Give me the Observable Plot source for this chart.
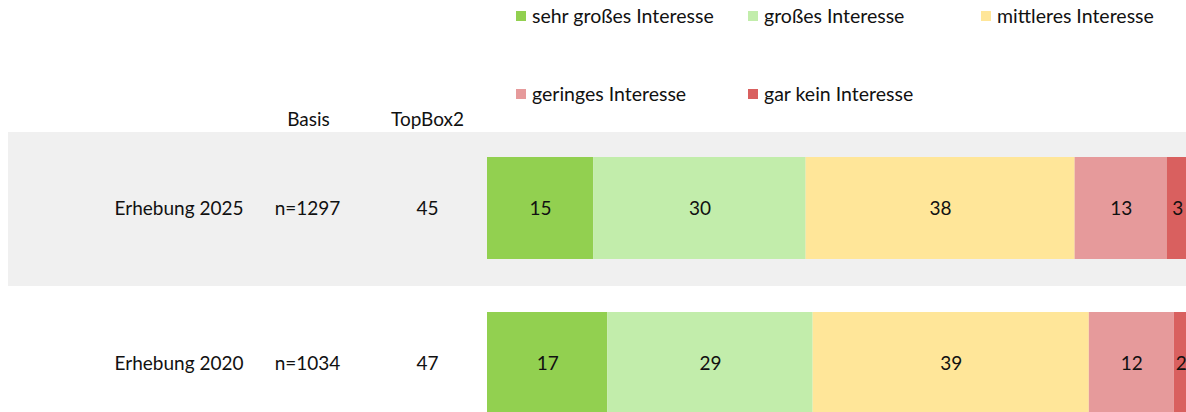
<!DOCTYPE html>
<html>
<head>
<meta charset="utf-8">
<script src="https://cdn.jsdelivr.net/npm/d3@7"></script>
<script src="https://cdn.jsdelivr.net/npm/@observablehq/plot@0.6"></script>
<style>
  html, body { margin: 0; padding: 0; background: #fff; overflow: hidden; }
  #wrap { position: relative; width: 1186px; height: 412px; font-family: Lato, "Noto Sans", sans-serif; }
  #legend { position: absolute; left: 516px; top: 4px; display: grid;
    grid-template-columns: 232px 233px auto; grid-auto-rows: 78px; font-size: 19.5px; color: #111; }
  .item { display: flex; align-items: flex-start; height: 24px; line-height: 24px; }
  .sw { width: 10px; height: 10px; margin-right: 6px; margin-top: 7px; flex: none; }
</style>
</head>
<body>
<div id="wrap"><div id="chart"></div><div id="legend"></div></div>
<script>
const rows = ["Erhebung 2025", "Erhebung 2020"];
const basis = ["n=1297", "n=1034"];
const topBox2 = [45, 47];
const categories = ["sehr großes Interesse", "großes Interesse", "mittleres Interesse", "geringes Interesse", "gar kein Interesse"];
const colors = ["#92d050", "#c2edab", "#ffe699", "#e69a9b", "#d9605f"];
const values2025 = [15, 30, 38, 13, 3];
const values2020 = [17, 29, 39, 12, 2];
const headers = ["Basis", "TopBox2"];

const seriesValues = [values2025, values2020];
const data = [];
rows.forEach((r, i) => categories.forEach((c, j) => data.push({row: r, cat: c, value: seriesValues[i][j]})));
const rowInfo = rows.map((r, i) => ({row: r, basis: basis[i], top: topBox2[i]}));

const font = "Lato, 'Noto Sans', sans-serif";
const chart = Plot.plot({
  width: 1186,
  height: 412,
  marginLeft: 0, marginRight: 0, marginTop: 0, marginBottom: 0,
  style: {fontFamily: font, fontSize: "19px", color: "#111", background: "transparent", overflow: "hidden"},
  x: {domain: [0, 100], range: [487, 1195], axis: null},
  y: {domain: rows, range: [130.5, 440.5], paddingInner: 0.342, paddingOuter: 0.171, axis: null},
  color: {domain: categories, range: colors},
  marks: [
    Plot.barX([rows[0]], {y: d => d, x1: 0, x2: 100, insetLeft: -479, insetRight: -20, insetTop: -25, insetBottom: -27, fill: "#f0f0f0"}),
    Plot.barX(data, Plot.stackX({y: "row", x: "value", fill: "cat", order: categories})),
    Plot.text(data, Plot.stackX({y: "row", x: "value", z: "cat", order: categories, text: d => String(d.value), fill: "#111", fontSize: 19})),
    Plot.text(rowInfo, {y: "row", text: "row", frameAnchor: "left", dx: 243, textAnchor: "end", fill: "#111"}),
    Plot.text(rowInfo, {y: "row", text: "basis", frameAnchor: "left", dx: 307, textAnchor: "middle", fill: "#111"}),
    Plot.text(rowInfo, {y: "row", text: d => String(d.top), frameAnchor: "left", dx: 427, textAnchor: "middle", fill: "#111"}),
    Plot.text([headers[0]], {text: d => d, frameAnchor: "top-left", dx: 308, dy: 119, textAnchor: "middle", lineAnchor: "middle", fill: "#111"}),
    Plot.text([headers[1]], {text: d => d, frameAnchor: "top-left", dx: 427, dy: 119, textAnchor: "middle", lineAnchor: "middle", fill: "#111"})
  ]
});
document.getElementById("chart").appendChild(chart);

const legend = document.getElementById("legend");
categories.forEach((c, i) => {
  const it = document.createElement("div");
  it.className = "item";
  if (i === 3) it.style.gridColumn = "1";
  it.innerHTML = `<span class="sw" style="background:${colors[i]}"></span><span>${c}</span>`;
  legend.appendChild(it);
});
</script>
</body>
</html>
